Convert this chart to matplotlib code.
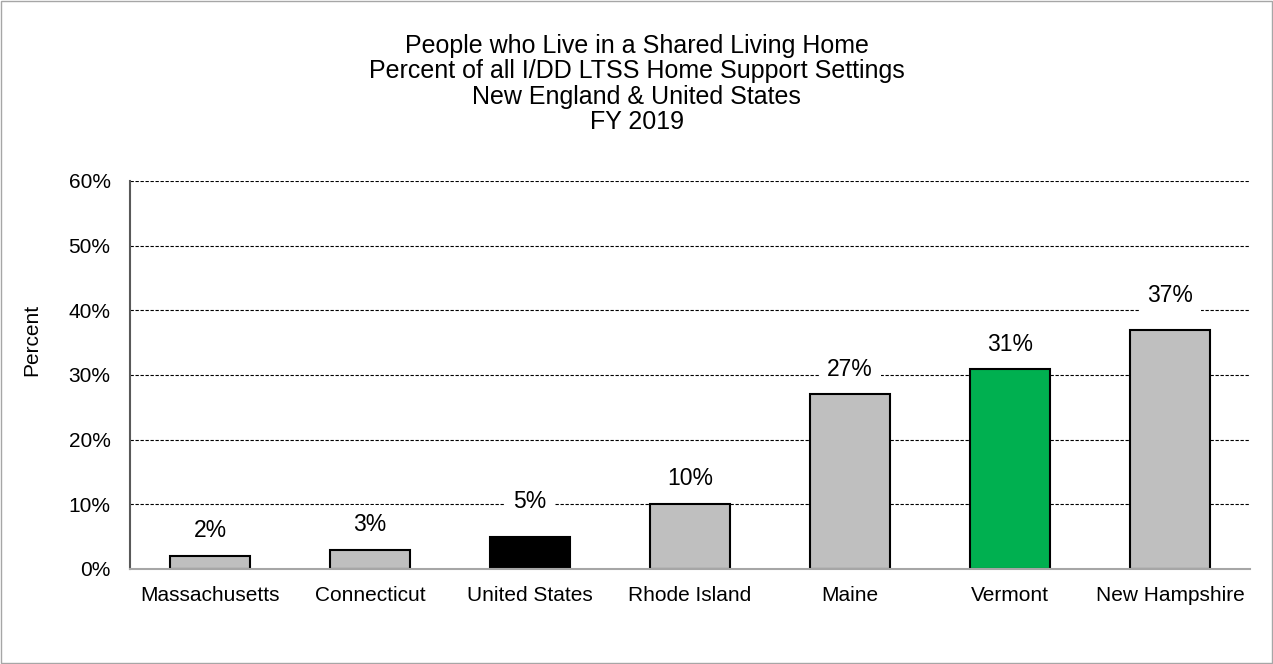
import matplotlib.pyplot as plt
from matplotlib.patches import Rectangle

plt.rcParams['font.family'] = ['Liberation Sans', 'DejaVu Sans']

states = ["Massachusetts", "Connecticut", "United States", "Rhode Island",
          "Maine", "Vermont", "New Hampshire"]
pct = [2, 3, 5, 10, 27, 31, 37]
colors = ["#bfbfbf", "#bfbfbf", "#000000", "#bfbfbf", "#bfbfbf", "#00b050", "#bfbfbf"]
yticks = [0, 10, 20, 30, 40, 50, 60]
# label lift above bar top, in percent units (labels were nudged in the source)
label_gap = [4.0, 3.9, 5.4, 4.0, 3.9, 3.7, 5.3]

fig = plt.figure(figsize=(12.73, 6.64), dpi=100)
ax = fig.add_axes([130/1273, 1 - 569/664, 1120/1273, 388/664])

x = range(len(states))
ax.bar(x, pct, width=0.5, color=colors, edgecolor="black", linewidth=1.5, zorder=3)

for i, v in enumerate(pct):
    ax.text(i, v + label_gap[i], f"{v}%", ha="center", va="center", fontsize=16.5,
            bbox=dict(facecolor="white", edgecolor="none", pad=6), zorder=4)

ax.set_xlim(-0.5, 6.5)
ax.set_ylim(0, 60)
ax.set_yticks(yticks)
ax.set_yticklabels([f"{t}%" for t in yticks], fontsize=15)
ax.set_xticks(list(x))
ax.set_xticklabels(states, fontsize=15)
ax.tick_params(axis="y", length=0, pad=14)
ax.tick_params(axis="x", length=0, pad=12)
ax.yaxis.grid(True, linestyle=(0, (3, 1.5)), color="black", linewidth=0.8, zorder=0)
ax.set_axisbelow(True)
for s in ["top", "right"]:
    ax.spines[s].set_visible(False)
ax.spines["left"].set_color("#595959")
ax.spines["left"].set_linewidth(1.5)
ax.spines["bottom"].set_color("#a6a6a6")
ax.spines["bottom"].set_linewidth(1.5)
ax.spines["bottom"].set_zorder(5)

fig.text(32/1273, 1 - 340/664, "Percent", rotation=90, ha="center", va="center",
         fontsize=15)

fig.text(0.5, 0.949, "People who Live in a Shared Living Home\n"
         "Percent of all I/DD LTSS Home Support Settings\n"
         "New England & United States\nFY 2019",
         ha="center", va="top", fontsize=18, linespacing=1.08)

fig.patches.append(Rectangle((0.001, 0.001), 0.998, 0.997, transform=fig.transFigure,
                             fill=False, edgecolor="#a6a6a6", linewidth=1))

fig.savefig("out.png", dpi=100)
